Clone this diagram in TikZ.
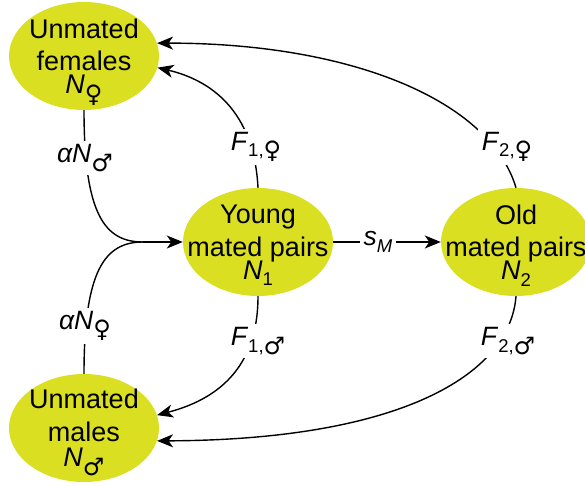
\documentclass[tikz,border=0pt]{standalone}
\usepackage{fontspec}
\setmainfont{Liberation Sans}
\newfontfamily\symfont{DejaVu Sans}
\usetikzlibrary{arrows.meta,shapes.geometric}
\definecolor{popfill}{RGB}{218,223,34}
\newcommand{\lowsub}[1]{\raisebox{-0.25em}{\fontsize{18.5}{18.5}\selectfont #1}}
\newcommand{\fem}{{\symfont\fontsize{24}{24}\selectfont\raisebox{-0.08em}{♀}}}
\newcommand{\mal}{{\symfont\fontsize{24}{24}\selectfont\raisebox{-0.08em}{♂}}}
\begin{document}
\begin{tikzpicture}[x=1pt,y=-1pt,
  popnode/.style={ellipse, fill=popfill, minimum width=150pt, minimum height=108pt,
    inner sep=0pt},
  poptext/.style={label={[align=center, text depth=0pt, inner sep=0pt,
    font=\fontsize{27}{32.5}\selectfont]center:#1}},
  lbl/.style={fill=white, inner xsep=4pt, inner ysep=3pt, font=\fontsize{26.5}{30}\selectfont},
  link/.style={line width=1.4pt},
  arr/.style={link, -{Stealth[length=16pt,width=13pt,inset=4.5pt]}}]
\useasboundingbox (0,0) rectangle (585,486);
\node[popnode, poptext={Unmated\\females\\[-9.5pt]\textit{N}\lowsub{\fem}}] (uf) at (84,56) {};
\node[popnode, poptext={Unmated\\males\\[-7pt]\textit{N}\lowsub{\mal}}] (um) at (84,428) {};
\node[popnode, poptext={Young\\mated pairs\\[-9.5pt]\textit{N}\lowsub{1}}] (yg) at (258,242) {};
\node[popnode, poptext={Old\\mated pairs\\[-9.5pt]\textit{N}\lowsub{2}}] (old) at (516,242) {};
\coordinate (J) at (143,242);
\draw[link] (uf.south) .. controls (84,215) and (105,242) .. (J);
\draw[link] (um.north) .. controls (84,270) and (105,242) .. (J);
\draw[arr] (J) -- (yg.west);
\draw[arr] (yg.north) .. controls (254,110) and (210,80) .. (uf.-9);
\draw[arr] (old.north) .. controls (490,100) and (350,43) .. (uf.10);
\draw[arr] (yg.south) .. controls (258,370) and (215,400) .. (um.10);
\draw[arr] (old.south) .. controls (510,375) and (400,440) .. (um.-10);
\draw[arr] (yg.east) -- (old.west);
\node[lbl] (lf1) at (256,147) {\textit{F}\lowsub{1,\fem}};
\node[lbl] (lf2) at (507,147) {\textit{F}\lowsub{2,\fem}};
\node[lbl] (lm1) at (258,341) {\textit{F}\lowsub{1,\mal}};
\node[lbl] (lm2) at (508,341) {\textit{F}\lowsub{2,\mal}};
\node[lbl] (la1) at (85,158) {\textit{αN}\lowsub{\mal}};
\node[lbl] (la2) at (85,326) {\textit{αN}\lowsub{\fem}};
\node[lbl] (ls) at (378,242) {\textit{s}\lowsub{\textit{M}}};
\end{tikzpicture}
\end{document}
